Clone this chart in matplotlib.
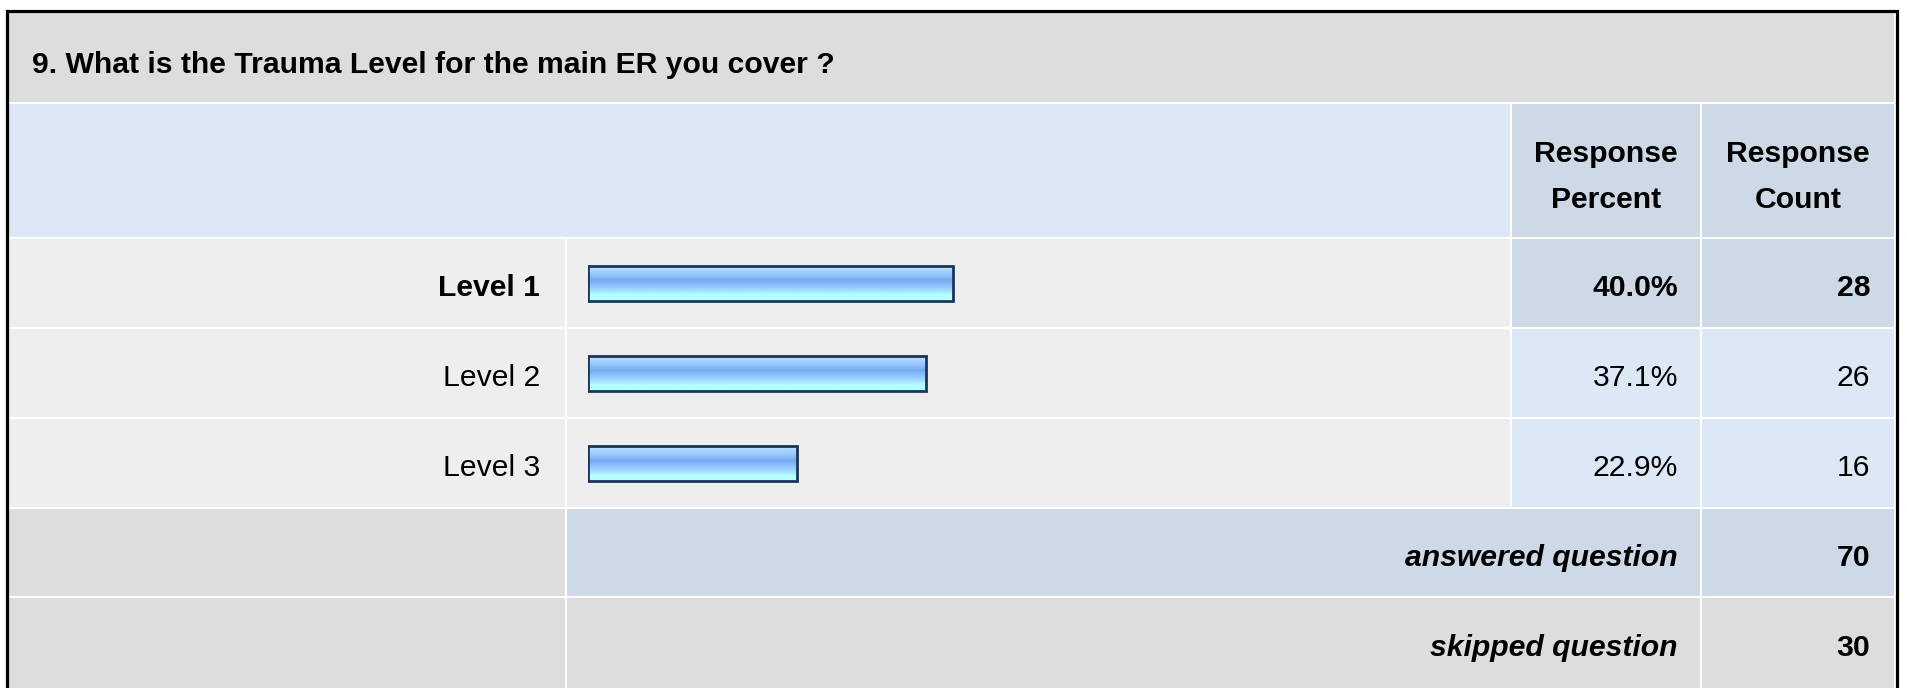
import numpy as np
import matplotlib
matplotlib.use('Agg')
import matplotlib.pyplot as plt
from matplotlib.patches import Rectangle
from matplotlib.colors import LinearSegmentedColormap

plt.rcParams['font.family'] = ['Liberation Sans', 'DejaVu Sans']

# data
title = '9. What is the Trauma Level for the main ER you cover ?'
labels = ['Level 1', 'Level 2', 'Level 3']
percents = [40.0, 37.1, 22.9]
counts = [28, 26, 16]
answered = 70
skipped = 30
col_headers = ['Response\nPercent', 'Response\nCount']

W, H = 1907, 688
fig = plt.figure(figsize=(W / 100, H / 100), dpi=100)
fig.patch.set_facecolor('white')

# background table, pixel coordinates (y down)
ax = fig.add_axes([0, 0, 1, 1])
ax.set_xlim(0, W)
ax.set_ylim(H, 0)
ax.axis('off')

xl, xlab, xpct, xcnt, xr = 8, 566, 1511, 1701, 1895
y_title, y_head, y_rows, y_ans, y_skip, y_end = 11, 103, 238, 508, 597, 690
row_h = (y_ans - y_rows) / 3

grey = '#dddddd'
row_bg = '#eeeeee'
blue_dk = '#cdd9e6'
blue_lt = '#dce8f5'


def cell(x0, y0, x1, y1, color):
    ax.add_patch(Rectangle((x0 + 1, y0 + 1), x1 - x0 - 2, y1 - y0 - 2,
                           facecolor=color, edgecolor='none', zorder=1))


cell(xl, y_title, xr, y_head, grey)
cell(xl, y_head, xpct, y_rows, blue_lt)
cell(xpct, y_head, xcnt, y_rows, blue_dk)
cell(xcnt, y_head, xr, y_rows, blue_dk)
for i in range(len(labels)):
    y0 = y_rows + i * row_h
    y1 = y0 + row_h
    c = blue_dk if i == 0 else blue_lt
    cell(xl, y0, xlab, y1, row_bg)
    cell(xlab, y0, xpct, y1, row_bg)
    cell(xpct, y0, xcnt, y1, c)
    cell(xcnt, y0, xr, y1, c)
cell(xl, y_ans, xlab, y_skip, grey)
cell(xlab, y_ans, xcnt, y_skip, blue_dk)
cell(xcnt, y_ans, xr, y_skip, blue_dk)
cell(xl, y_skip, xlab, y_end, grey)
cell(xlab, y_skip, xcnt, y_end, grey)
cell(xcnt, y_skip, xr, y_end, grey)

# outer border
ax.plot([6.5, 6.5, 1896.5, 1896.5], [H + 5, 11, 11, H + 5],
        color='black', lw=2.3, solid_joinstyle='miter', zorder=5)

fs = 21.7
ax.text(32, 73, title, fontsize=fs, fontweight='bold', ha='left', va='baseline')

for j, hdr in enumerate(col_headers):
    cx = (xpct + xcnt) / 2 if j == 0 else (xcnt + xr) / 2
    top, bottom = hdr.split('\n')
    ax.text(cx, 162, top, fontsize=fs, fontweight='bold', ha='center', va='baseline')
    ax.text(cx, 208, bottom, fontsize=fs, fontweight='bold', ha='center', va='baseline')

for i, (lab, p, n) in enumerate(zip(labels, percents, counts)):
    yb = y_rows + (i + 0.5) * row_h + 13
    fw = 'bold' if i == 0 else 'normal'
    ax.text(xlab - 26, yb, lab, fontsize=fs, fontweight=fw, ha='right', va='baseline')
    ax.text(xcnt - 23, yb, f'{p:.1f}%', fontsize=fs, fontweight=fw, ha='right', va='baseline')
    ax.text(xr - 25, yb, str(n), fontsize=fs, fontweight=fw, ha='right', va='baseline')

yb = (y_ans + y_skip) / 2 + 13
ax.text(xcnt - 23, yb, 'answered question', fontsize=fs, fontweight='bold',
        style='italic', ha='right', va='baseline')
ax.text(xr - 25, yb, str(answered), fontsize=fs, fontweight='bold', ha='right', va='baseline')
yb = (y_skip + H) / 2 + 13
ax.text(xcnt - 23, yb, 'skipped question', fontsize=fs, fontweight='bold',
        style='italic', ha='right', va='baseline')
ax.text(xr - 25, yb, str(skipped), fontsize=fs, fontweight='bold', ha='right', va='baseline')

# bar area: 0-100 % mapped over 912 px
bx0, bw = 588, 912
bax = fig.add_axes([bx0 / W, (H - y_ans) / H, bw / W, (y_ans - y_rows) / H])
bax.set_xlim(0, 100)
bax.set_ylim(len(labels) - 0.5, -0.5)
bax.axis('off')
bax.patch.set_alpha(0)

bar_h = 35 / row_h
grad_cmap = LinearSegmentedColormap.from_list(
    'glass', ['#cce8ff', '#a8d4ff', '#92c4ff', '#76aaf0', '#8cc0ff', '#a4d8ff', '#b4ffff', '#b4ffff'])
grad = np.linspace(0, 1, 64).reshape(-1, 1)

bars = bax.barh(range(len(labels)), percents, height=bar_h, left=0,
                facecolor='none', edgecolor='#1c3557', linewidth=2.0, zorder=3)
for i, b in enumerate(bars):
    bax.imshow(grad, cmap=grad_cmap, aspect='auto', zorder=2,
               extent=(0, percents[i], i + bar_h / 2, i - bar_h / 2),
               origin='upper', interpolation='bilinear')
bax.set_xlim(0, 100)
bax.set_ylim(len(labels) - 0.5, -0.5)

fig.savefig('out.png', dpi=100)
